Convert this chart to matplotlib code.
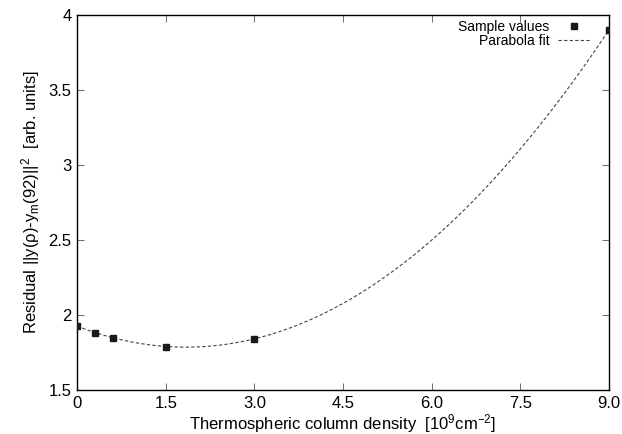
import numpy as np
import matplotlib
matplotlib.use("Agg")
import matplotlib.pyplot as plt

plt.rcParams["font.family"] = ["Liberation Sans", "DejaVu Sans"]
plt.rcParams["mathtext.fontset"] = "custom"
plt.rcParams["mathtext.rm"] = "Liberation Sans"
plt.rcParams["mathtext.it"] = "Liberation Sans:italic"

# sampled column densities [1e9 cm^-2] and residuals
density = [0.0, 0.3, 0.6, 1.5, 3.0, 9.0]
residual = [1.927, 1.882, 1.849, 1.789, 1.842, 3.90]

x_ticks = [0, 1.5, 3.0, 4.5, 6.0, 7.5, 9.0]
x_tick_labels = ["0", "1.5", "3.0", "4.5", "6.0", "7.5", "9.0"]
y_ticks = [1.5, 2, 2.5, 3, 3.5, 4]
y_tick_labels = ["1.5", "2", "2.5", "3", "3.5", "4"]

coef = np.polyfit(density, residual, 2)
xfit = np.linspace(0, 9, 300)
yfit = np.polyval(coef, xfit)

fig = plt.figure(figsize=(6.22, 4.34), dpi=100)
ax = fig.add_axes([0.124, 0.1014, 0.855, 0.864])

ax.plot(density, residual, "s", color="#1a1a1a", markersize=5, label="Sample values", zorder=3)
ax.plot(xfit, yfit, "--", color="#444444", lw=0.8, dashes=(3, 2), label="Parabola fit")

ax.set_xlim(0, 9)
ax.set_ylim(1.5, 4)
ax.set_xticks(x_ticks)
ax.set_xticklabels(x_tick_labels)
ax.set_yticks(y_ticks)
ax.set_yticklabels(y_tick_labels)
ax.tick_params(direction="in", top=True, right=True, length=5, width=0.6, color="#555555",
               labelsize=12, pad=4)
for s in ax.spines.values():
    s.set_linewidth(1.0)

ax.set_xlabel("Thermospheric column density  [10$\\mathregular{^9}$cm$\\mathregular{^{-2}}$]",
              fontsize=12, labelpad=1)
ax.set_ylabel("Residual ||y(ρ)-y$\\mathregular{_m}$(92)||$\\mathregular{^2}$  [arb. units]",
              fontsize=12, labelpad=5)

ax.legend(loc="upper right", bbox_to_anchor=(0.98, 1.01), frameon=False, markerfirst=False,
          fontsize=10, handlelength=2.3, handletextpad=0.6, labelspacing=0.05, borderaxespad=0.2)

fig.savefig("out.png", dpi=100)
